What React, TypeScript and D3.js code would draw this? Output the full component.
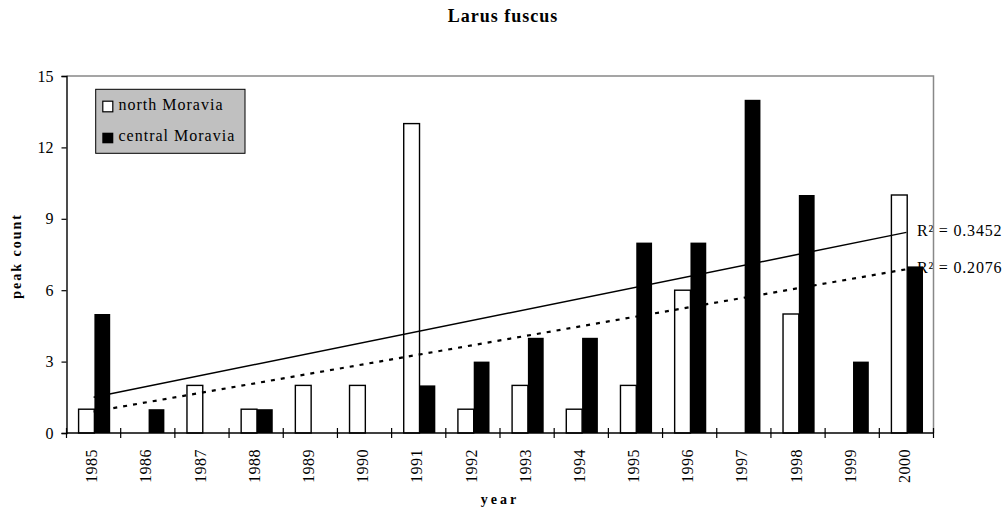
import React, { useEffect, useRef } from 'react';
import * as d3 from 'd3';

const years = ['1985', '1986', '1987', '1988', '1989', '1990', '1991', '1992',
  '1993', '1994', '1995', '1996', '1997', '1998', '1999', '2000'];
const northMoravia = [1, 0, 2, 1, 2, 2, 13, 1, 2, 1, 2, 6, 0, 5, 0, 10];
const centralMoravia = [5, 1, 0, 1, 0, 0, 2, 3, 4, 4, 8, 8, 14, 10, 3, 7];
const yTicks = [0, 3, 6, 9, 12, 15];

// trend line ends (first and last year)
const trendSolid = [1.5, 8.43];
const trendDotted = [0.9, 6.88];
const r2Labels = ['R² = 0.3452', 'R² = 0.2076'];

const FONT = '"Liberation Serif", "Times New Roman", serif';

const App = () => {
  const svgRef = useRef(null);

  useEffect(() => {
    const width = 1007;
    const height = 508;
    const left = 66.5, right = 933.5, top = 76, bottom = 433;

    const svg = d3.select(svgRef.current)
      .attr('width', width)
      .attr('height', height)
      .style('font-family', FONT);
    svg.selectAll('*').remove();

    const x = d3.scaleBand().domain(years).range([left, right]).padding(0);
    const y = d3.scaleLinear().domain([0, 15]).range([bottom, top]);
    const barW = 15.8;
    const mid = (yr) => x(yr) + x.bandwidth() / 2 + 0.8;

    // title
    svg.append('text')
      .attr('x', 503).attr('y', 22)
      .attr('text-anchor', 'middle')
      .style('font-size', '18px').style('font-weight', 'bold')
      .style('letter-spacing', '1px')
      .text('Larus fuscus');

    // white bars (north)
    svg.append('g').selectAll('rect')
      .data(northMoravia)
      .join('rect')
      .attr('x', (d, i) => mid(years[i]) - barW)
      .attr('y', d => y(d))
      .attr('width', barW)
      .attr('height', d => bottom - y(d))
      .attr('fill', '#fff')
      .attr('stroke', d => (d > 0 ? '#000' : 'none'))
      .attr('stroke-width', 1.4);

    // trend lines
    const trendX = [x(years[0]) + x.bandwidth() / 2, x(years[years.length - 1]) + x.bandwidth() / 2];
    const line = d3.line().x((d, i) => trendX[i]).y(d => y(d));
    svg.append('path')
      .attr('d', line(trendSolid))
      .attr('fill', 'none').attr('stroke', '#000').attr('stroke-width', 1.5);
    svg.append('path')
      .attr('d', line(trendDotted))
      .attr('fill', 'none').attr('stroke', '#000').attr('stroke-width', 2.2)
      .attr('stroke-dasharray', '4,6');

    // R² labels
    svg.append('text')
      .attr('x', 917).attr('y', y(trendSolid[1]) + 4)
      .style('font-size', '16px').style('letter-spacing', '0.8px')
      .text(r2Labels[0]);
    svg.append('text')
      .attr('x', 917).attr('y', y(trendDotted[1]) + 4)
      .style('font-size', '16px').style('letter-spacing', '0.8px')
      .text(r2Labels[1]);

    // black bars (central)
    svg.append('g').selectAll('rect')
      .data(centralMoravia)
      .join('rect')
      .attr('x', (d, i) => mid(years[i]))
      .attr('y', d => y(d))
      .attr('width', barW)
      .attr('height', d => bottom - y(d))
      .attr('fill', '#000');

    // frame: top and right gray
    svg.append('path')
      .attr('d', `M${left},${top}H${right}V${bottom}`)
      .attr('fill', 'none').attr('stroke', '#888').attr('stroke-width', 1.5);

    // y axis
    const yAxis = svg.append('g')
      .attr('transform', `translate(${left},0)`)
      .call(d3.axisLeft(y).tickValues(yTicks).tickSize(5).tickPadding(8).tickFormat(d3.format('d')));
    yAxis.select('.domain').attr('stroke', '#000').attr('stroke-width', 1.4);
    yAxis.selectAll('.tick line').attr('stroke', '#000').attr('stroke-width', 1.2);
    yAxis.selectAll('.tick text')
      .attr('fill', '#000')
      .style('font-family', FONT).style('font-size', '16px');

    // x axis line + crossing ticks at category boundaries
    svg.append('line')
      .attr('x1', left).attr('x2', right).attr('y1', bottom).attr('y2', bottom)
      .attr('stroke', '#000').attr('stroke-width', 1.4);
    svg.append('g').selectAll('line')
      .data(years.concat(['end']))
      .join('line')
      .attr('x1', (d, i) => (i < years.length ? x(d) : right))
      .attr('x2', (d, i) => (i < years.length ? x(d) : right))
      .attr('y1', bottom - 5).attr('y2', bottom + 5)
      .attr('stroke', '#000').attr('stroke-width', 1.2);

    // year labels, rotated
    svg.append('g').selectAll('text')
      .data(years)
      .join('text')
      .attr('transform', d => `translate(${x(d) + x.bandwidth() / 2 - 2},449) rotate(-90)`)
      .attr('text-anchor', 'end')
      .attr('dy', '0.35em')
      .style('font-size', '16px').style('letter-spacing', '0.5px')
      .text(d => d);

    // axis titles
    svg.append('text')
      .attr('x', 500).attr('y', 504)
      .attr('text-anchor', 'middle')
      .style('font-size', '14px').style('font-weight', 'bold')
      .style('letter-spacing', '3px')
      .text('year');
    svg.append('text')
      .attr('transform', 'translate(21,256) rotate(-90)')
      .attr('text-anchor', 'middle')
      .style('font-size', '14px').style('font-weight', 'bold')
      .style('letter-spacing', '2px')
      .text('peak count');

    // legend
    const lg = svg.append('g');
    lg.append('rect')
      .attr('x', 95.7).attr('y', 89.3).attr('width', 149.3).attr('height', 64)
      .attr('fill', '#c0c0c0').attr('stroke', '#000').attr('stroke-width', 1);
    lg.append('rect')
      .attr('x', 102.8).attr('y', 101.2).attr('width', 10).attr('height', 10.6)
      .attr('fill', '#fff').attr('stroke', '#000').attr('stroke-width', 1.2);
    lg.append('rect')
      .attr('x', 102.3).attr('y', 132.7).attr('width', 11).attr('height', 10.6)
      .attr('fill', '#000');
    lg.append('text')
      .attr('x', 118.5).attr('y', 109.5)
      .style('font-size', '16px').style('letter-spacing', '1px')
      .text('north Moravia');
    lg.append('text')
      .attr('x', 118.5).attr('y', 140.5)
      .style('font-size', '16px').style('letter-spacing', '1px')
      .text('central Moravia');
  }, []);

  return (
    <div style={{ position: 'absolute', left: 0, top: 0, background: '#fff' }}>
      <svg ref={svgRef} style={{ display: 'block' }}></svg>
    </div>
  );
};

export default App;
